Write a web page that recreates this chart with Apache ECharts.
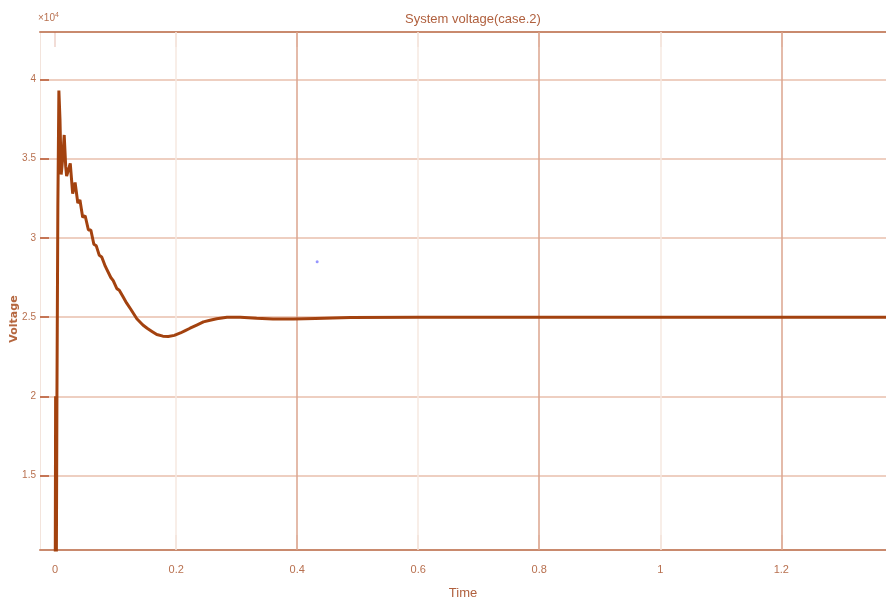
<!DOCTYPE html>
<html>
<head>
<meta charset="utf-8">
<script src="https://cdn.jsdelivr.net/npm/echarts@6/dist/echarts.min.js"></script>
<style>
html,body{margin:0;padding:0;background:#fff;}
#chart{width:886px;height:605px;}
</style>
</head>
<body>
<div id="chart"></div>
<script>
// Time (s)
const times = [
  0.0000, 0.0008, 0.0016, 0.0030, 0.0045, 0.0062, 0.0080, 0.0100, 0.0125, 0.0150,
  0.0175, 0.0190, 0.0250, 0.0290, 0.0330, 0.0375, 0.0410, 0.0455, 0.0496, 0.0550,
  0.0590, 0.0640, 0.0680, 0.0730, 0.0770, 0.0830, 0.0860, 0.0920, 0.0960, 0.1020,
  0.1060, 0.1120, 0.1180, 0.1250, 0.1350, 0.1450, 0.1520, 0.1600, 0.1680, 0.1780,
  0.1870, 0.1970, 0.2070, 0.2150, 0.2230, 0.2340, 0.2450, 0.2560, 0.2670, 0.2840,
  0.3060, 0.3330, 0.3600, 0.3940, 0.4300, 0.4880, 0.6000, 0.8000, 1.0000, 1.2000,
  1.3800
];
// System voltage (x10^4 V)
const volts = [
  0.50, 2.00, 0.50, 2.00, 3.20, 3.93, 3.75, 3.40, 3.50, 3.65,
  3.45, 3.39, 3.47, 3.28, 3.35, 3.22, 3.24, 3.13, 3.14, 3.05,
  3.05, 2.96, 2.95, 2.89, 2.88, 2.82, 2.81, 2.75, 2.73, 2.68,
  2.67, 2.63, 2.59, 2.55, 2.49, 2.45, 2.43, 2.41, 2.39, 2.38,
  2.378, 2.385, 2.40, 2.415, 2.43, 2.45, 2.47, 2.48, 2.49, 2.499,
  2.50, 2.493, 2.488, 2.488, 2.492, 2.497, 2.50, 2.50, 2.50, 2.50,
  2.50
];
// stray marker
const strayPoint = [0.433, 2.85];
// tick labels
const xTicks = [0, 0.2, 0.4, 0.6, 0.8, 1, 1.2];
const yTicks = [1.5, 2, 2.5, 3, 3.5, 4];
const darkGrid = [0.4, 0.8, 1.2];
const lightGrid = [0.2, 0.6, 1.0];

const lineData = times.map((t, i) => [t, volts[i]]);
const FONT = "'Liberation Sans Narrow','Liberation Sans',Arial,sans-serif";
const TXT = '#b8704f';

const chart = echarts.init(document.getElementById('chart'), null, {renderer: 'canvas'});
chart.setOption({
  animation: false,
  backgroundColor: '#ffffff',
  title: {
    text: 'System voltage(case.2)',
    left: 468, top: 8, textAlign: 'center',
    textStyle: {fontFamily: FONT, fontSize: 13, fontWeight: 'normal', color: '#b0603e'}
  },
  grid: {left: 40, right: 0, top: 32, bottom: 52, containLabel: false},
  xAxis: [{
    type: 'value', min: -0.025, max: 1.373, position: 'bottom',
    axisLine: {show: true, onZero: false, lineStyle: {color: '#c98a6e', width: 2}},
    axisTick: {show: true, inside: true, length: 15, customValues: xTicks,
      lineStyle: {color: 'rgba(200,110,80,0.3)', width: 1.5}},
    axisLabel: {customValues: xTicks, margin: 14, fontFamily: FONT, fontSize: 11, color: TXT,
      formatter: v => String(+v.toFixed(2))},
    splitLine: {show: false},
    name: 'Time', nameLocation: 'middle', nameGap: 37,
    nameTextStyle: {fontFamily: "'Liberation Sans',Arial,sans-serif", fontSize: 13, color: '#b0603e'}
  }, {
    type: 'value', min: -0.025, max: 1.373, position: 'top',
    axisLine: {show: true, onZero: false, lineStyle: {color: '#c98a6e', width: 2}},
    axisTick: {show: true, inside: true, length: 15, customValues: xTicks,
      lineStyle: {color: 'rgba(200,110,80,0.3)', width: 1.5}},
    axisLabel: {show: false},
    splitLine: {show: false}
  }],
  yAxis: {
    type: 'value', min: 1.03, max: 4.30, position: 'left',
    axisLine: {show: true, onZero: false, lineStyle: {color: '#f3e4dc', width: 1}},
    axisTick: {show: true, inside: true, length: 9, customValues: yTicks,
      lineStyle: {color: '#c57555', width: 2}},
    axisLabel: {customValues: yTicks, margin: 4, fontFamily: FONT, fontSize: 10, color: TXT},
    splitLine: {show: true, lineStyle: {color: '#e8bfad', width: 1.5}}
  },
  graphic: [
    {
      type: 'text', left: 38, top: 12,
      style: {
        text: '{a|×10}{b|4}',
        rich: {
          a: {fontFamily: FONT, fontSize: 10, fill: TXT},
          b: {fontFamily: FONT, fontSize: 7, fill: TXT, verticalAlign: 'top', padding: [0, 0, 6, 0]}
        }
      }
    },
    {
      type: 'text', x: 14, y: 319, rotation: Math.PI / 2,
      style: {
        text: 'Voltage', align: 'center', verticalAlign: 'middle',
        fontFamily: "'DejaVu Sans',Verdana,sans-serif", fontSize: 11, fontWeight: 'bold', fill: '#b5673f'
      }
    }
  ],
  series: [
    {
      type: 'line', z: 1, silent: true, showSymbol: false,
      data: [[0, 2.5]], lineStyle: {width: 0},
      markLine: {
        silent: true, symbol: 'none', label: {show: false},
        data: lightGrid.map(v => ({xAxis: v, lineStyle: {color: '#f6e8e1', width: 1.5, type: 'solid'}}))
          .concat(darkGrid.map(v => ({xAxis: v, lineStyle: {color: '#dba58e', width: 1.5, type: 'solid'}})))
      }
    },
    {
      type: 'line', z: 5, data: lineData, showSymbol: false, clip: true,
      lineStyle: {color: '#a3420f', width: 3}, itemStyle: {color: '#a3420f'}
    },
    {
      type: 'scatter', z: 6, data: [strayPoint], symbolSize: 3,
      itemStyle: {color: '#7c7cff'}
    }
  ]
});
</script>
</body>
</html>
